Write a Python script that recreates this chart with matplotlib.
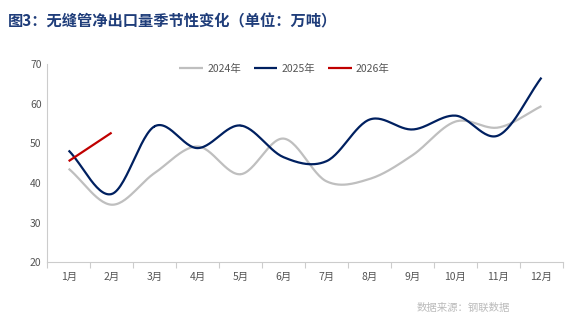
import numpy as np
import matplotlib
matplotlib.use("Agg")
import matplotlib.pyplot as plt

plt.rcParams['font.family'] = ['Noto Sans CJK SC', 'DejaVu Sans']

months = ['1月', '2月', '3月', '4月', '5月', '6月', '7月', '8月', '9月', '10月', '11月', '12月']
y2024 = [43.6, 34.5, 42.5, 49.2, 42.2, 51.2, 40.4, 41.0, 47.0, 55.5, 54.0, 59.4]
y2025 = [48.2, 37.2, 54.3, 48.8, 54.5, 46.5, 45.5, 56.0, 53.5, 57.0, 52.0, 66.6]
y2026 = [45.5, 52.7]

title = '图3：无缝管净出口量季节性变化（单位：万吨）'
source = '数据来源：钢联数据'


def smooth(xs, ys, n=30):
    # catmull-rom curve through the points, just for the look of the line
    xs = np.asarray(xs, float); ys = np.asarray(ys, float)
    if len(xs) < 3:
        return xs, ys
    px = np.concatenate([[2*xs[0]-xs[1]], xs, [2*xs[-1]-xs[-2]]])
    py = np.concatenate([[2*ys[0]-ys[1]], ys, [2*ys[-1]-ys[-2]]])
    ox, oy = [], []
    t = np.linspace(0, 1, n)
    for i in range(1, len(px)-2):
        for p, o in ((px, ox), (py, oy)):
            p0, p1, p2, p3 = p[i-1], p[i], p[i+1], p[i+2]
            o.extend(0.5*((2*p1) + (-p0+p2)*t + (2*p0-5*p1+4*p2-p3)*t**2 + (-p0+3*p1-3*p2+p3)*t**3))
    return np.array(ox), np.array(oy)


fig = plt.figure(figsize=(5.75, 3.24), dpi=100)
ax = fig.add_axes([0.082, 0.191, 0.897, 0.611])

x = np.arange(1, 13)
for ys, c, lab in ((y2024, '#BFBFBF', '2024年'), (y2025, '#002060', '2025年'), (y2026, '#C00000', '2026年')):
    sx, sy = smooth(x[:len(ys)], ys)
    ax.plot(sx, sy, color=c, lw=1.6, label=lab, solid_capstyle='butt')

ax.set_xlim(0.5, 12.5)
ax.set_ylim(20, 70)
ax.set_yticks(range(20, 71, 10))
ax.set_xticks(np.arange(0.5, 12.6, 1), minor=False)
ax.set_xticklabels([])
ax.set_xticks(x, minor=True)
ax.set_xticklabels(months, minor=True)
ax.tick_params(axis='x', which='major', length=4, color='#CCCCCC', width=0.8)
ax.tick_params(axis='x', which='minor', length=0, labelsize=7.5, labelcolor='#555555', pad=7)
ax.tick_params(axis='y', length=0, labelsize=7.5, labelcolor='#555555', pad=4)
for s in ('top', 'right'):
    ax.spines[s].set_visible(False)
for s in ('left', 'bottom'):
    ax.spines[s].set_color('#CCCCCC')
    ax.spines[s].set_linewidth(0.8)

ax.legend(loc='upper center', bbox_to_anchor=(0.46, 1.05), ncol=3, frameon=False,
          fontsize=7.5, labelcolor='#555555', handlelength=2.3, columnspacing=1.2,
          handletextpad=0.4)

fig.text(0.014, 0.935, title, fontsize=11, fontweight='bold', color='#1F3D7A', va='center')
fig.text(0.725, 0.05, source, fontsize=7.5, color='#BBBBBB', va='center')

fig.savefig('out.png', dpi=100)
